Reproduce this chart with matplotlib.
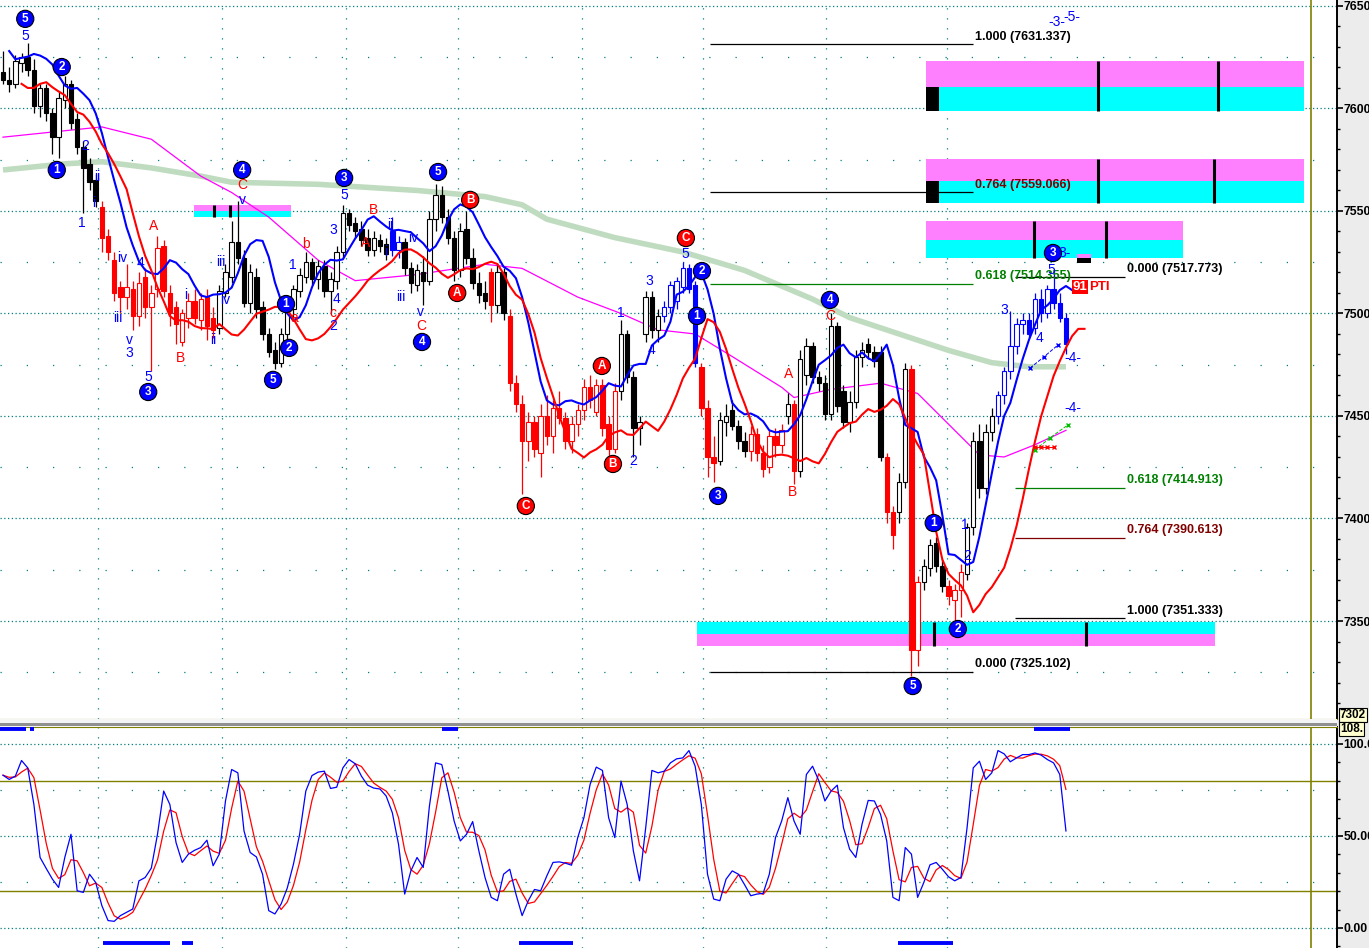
import numpy as np
import pandas as pd
import matplotlib
matplotlib.use("Agg")
import matplotlib.pyplot as plt
from matplotlib.patches import Rectangle
from matplotlib.ticker import MultipleLocator

plt.rcParams['font.family'] = ['Liberation Sans', 'DejaVu Sans']

# ---- price bars ----
opens = [7618, 7614, 7612, 7622, 7625, 7619, 7601, 7610, 7598, 7586,
         7604, 7612, 7595, 7581, 7573, 7565, 7552, 7538, 7526, 7513,
         7508, 7512, 7499, 7518, 7503, 7512, 7533, 7510, 7503, 7486,
         7498, 7506, 7497, 7508, 7498, 7493, 7510, 7518, 7535, 7527,
         7505, 7518, 7503, 7490, 7482, 7476, 7490, 7502, 7511, 7518,
         7525, 7517, 7523, 7511, 7516, 7530, 7549, 7544, 7541, 7537,
         7531, 7536, 7534, 7540, 7531, 7535, 7522, 7514, 7520, 7516,
         7546, 7558, 7547, 7537, 7521, 7541, 7527, 7515, 7510, 7520,
         7504, 7520, 7499, 7466, 7456, 7438, 7447, 7432, 7450, 7440,
         7454, 7449, 7438, 7446, 7453, 7464, 7452, 7465, 7446, 7434,
         7462, 7490, 7469, 7444, 7490, 7508, 7492, 7499, 7503, 7506,
         7513, 7522, 7514, 7474, 7454, 7430, 7428, 7447, 7453, 7445,
         7438, 7433, 7441, 7432, 7425, 7440, 7436, 7450, 7456, 7423,
         7470, 7484, 7469, 7466, 7451, 7494, 7462, 7447, 7457, 7479,
         7485, 7481, 7481, 7430, 7403, 7403, 7418, 7473, 7336, 7369,
         7376, 7388, 7377, 7367, 7360, 7365, 7373, 7396, 7438, 7415,
         7442, 7450, 7460, 7472, 7484, 7495, 7497, 7493, 7507, 7500,
         7512, 7505, 7498]
highs = [7628, 7620, 7626, 7627, 7632, 7624, 7612, 7612, 7600, 7608,
         7616, 7614, 7598, 7584, 7576, 7568, 7555, 7541, 7530, 7516,
         7524, 7516, 7520, 7522, 7514, 7538, 7536, 7514, 7506, 7502,
         7510, 7512, 7510, 7512, 7503, 7514, 7524, 7545, 7555, 7531,
         7524, 7522, 7506, 7493, 7486, 7493, 7505, 7514, 7522, 7530,
         7527, 7526, 7526, 7520, 7533, 7553, 7551, 7547, 7545, 7541,
         7540, 7539, 7537, 7547, 7538, 7537, 7525, 7524, 7528, 7550,
         7563, 7562, 7551, 7540, 7544, 7550, 7532, 7520, 7516, 7522,
         7524, 7522, 7502, 7470, 7460, 7452, 7450, 7456, 7460, 7458,
         7462, 7452, 7450, 7456, 7468, 7470, 7468, 7468, 7450, 7466,
         7497, 7492, 7472, 7450, 7511, 7511, 7502, 7506, 7516, 7518,
         7525, 7524, 7516, 7476, 7458, 7440, 7452, 7456, 7458, 7448,
         7442, 7445, 7444, 7436, 7443, 7444, 7446, 7461, 7458, 7482,
         7488, 7486, 7472, 7470, 7500, 7496, 7465, 7462, 7482, 7486,
         7488, 7484, 7484, 7432, 7406, 7422, 7476, 7475, 7372, 7380,
         7390, 7391, 7380, 7370, 7368, 7378, 7398, 7442, 7446, 7446,
         7454, 7462, 7474, 7501, 7498, 7500, 7500, 7510, 7512, 7514,
         7521, 7510, 7500]
lows = [7612, 7608, 7610, 7618, 7616, 7598, 7596, 7594, 7578, 7576,
        7600, 7590, 7578, 7549, 7560, 7552, 7530, 7526, 7506, 7500,
        7502, 7492, 7494, 7498, 7472, 7508, 7508, 7494, 7485, 7484,
        7493, 7495, 7492, 7487, 7488, 7490, 7508, 7515, 7524, 7503,
        7500, 7498, 7487, 7479, 7473, 7474, 7486, 7498, 7508, 7515,
        7514, 7512, 7508, 7500, 7512, 7527, 7540, 7537, 7533, 7528,
        7528, 7530, 7526, 7528, 7527, 7519, 7510, 7511, 7504, 7514,
        7540, 7544, 7534, 7516, 7518, 7524, 7512, 7505, 7502, 7496,
        7500, 7497, 7462, 7452, 7412, 7428, 7430, 7420, 7436, 7432,
        7446, 7434, 7432, 7440, 7448, 7454, 7450, 7440, 7430, 7432,
        7458, 7466, 7430, 7436, 7486, 7488, 7486, 7496, 7500, 7502,
        7510, 7510, 7474, 7450, 7420, 7418, 7426, 7440, 7443, 7434,
        7430, 7428, 7428, 7420, 7422, 7430, 7432, 7446, 7417, 7420,
        7465, 7466, 7462, 7448, 7448, 7452, 7444, 7442, 7454, 7474,
        7478, 7474, 7428, 7398, 7385, 7398, 7415, 7323, 7328, 7365,
        7372, 7374, 7364, 7358, 7350, 7352, 7370, 7392, 7410, 7412,
        7438, 7446, 7456, 7468, 7480, 7490, 7488, 7490, 7496, 7498,
        7502, 7496, 7480]
closes = [7614, 7612, 7623, 7625, 7619, 7601, 7610, 7598, 7586, 7605,
          7612, 7593, 7581, 7571, 7564, 7555, 7537, 7530, 7510, 7508,
          7513, 7499, 7515, 7503, 7510, 7532, 7511, 7500, 7495, 7500,
          7506, 7498, 7507, 7494, 7492, 7511, 7520, 7535, 7527, 7505,
          7520, 7502, 7490, 7481, 7476, 7490, 7502, 7512, 7519, 7525,
          7517, 7523, 7511, 7517, 7530, 7549, 7543, 7540, 7536, 7531,
          7537, 7533, 7529, 7531, 7535, 7522, 7515, 7521, 7516, 7546,
          7558, 7547, 7537, 7521, 7540, 7527, 7515, 7509, 7506, 7504,
          7520, 7500, 7466, 7456, 7438, 7447, 7434, 7450, 7440, 7454,
          7449, 7438, 7446, 7453, 7464, 7458, 7465, 7444, 7434, 7462,
          7490, 7469, 7444, 7447, 7508, 7492, 7499, 7503, 7514, 7516,
          7522, 7512, 7476, 7454, 7430, 7427, 7448, 7450, 7445, 7438,
          7433, 7441, 7432, 7424, 7440, 7436, 7443, 7456, 7423, 7478,
          7484, 7469, 7466, 7451, 7494, 7455, 7447, 7457, 7479, 7482,
          7481, 7477, 7430, 7403, 7392, 7418, 7473, 7336, 7369, 7377,
          7387, 7377, 7367, 7362, 7365, 7374, 7396, 7438, 7415, 7442,
          7450, 7460, 7472, 7484, 7495, 7497, 7490, 7507, 7500, 7512,
          7505, 7498, 7485]
# wave colouring of the bars: k black, r red, b blue
color_runs = [('k', 16), ('r', 19), ('k', 28), ('b', 2), ('k', 14), ('r', 1),
              ('k', 2), ('r', 18), ('k', 7), ('b', 6), ('r', 3), ('k', 5),
              ('r', 6), ('k', 1), ('r', 1), ('k', 14), ('r', 2), ('k', 2),
              ('r', 2), ('k', 4), ('r', 3), ('k', 5), ('b', 12)]

# slow averages, read at a few bars
ma_mid_bars = [0, 16, 24, 32, 37, 43, 51, 57, 67, 78, 84, 93, 100, 106, 112,
               118, 126, 128, 134, 142, 148, 153, 158, 162, 167, 172]
ma_mid_vals = [7586, 7591, 7585, 7567, 7559, 7547, 7526, 7516, 7519, 7524, 7522,
               7508, 7500, 7492, 7490, 7479, 7464, 7459, 7463, 7466, 7461, 7446,
               7431, 7430, 7436, 7443]
ma_long_bars = [0, 10, 16, 24, 32, 37, 51, 67, 78, 84, 88, 99, 110, 120, 131,
                137, 145, 153, 160, 166, 172]
ma_long_vals = [7570, 7573, 7574, 7571, 7567, 7564, 7563, 7560, 7557, 7553, 7546,
                7537, 7530, 7521, 7507, 7498, 7490, 7482, 7476, 7474, 7474]

# stochastic %K per bar
stoch_k = [83.0, 80.7, 82.5, 91.0, 87.0, 67.1, 38.3, 32.3, 26.5, 22.0,
           38.3, 50.9, 20.2, 19.3, 29.2, 24.7, 12.1, 4.0, 3.6, 6.7,
           8.5, 10.3, 25.6, 27.4, 32.5, 50.9, 74.4, 67.1, 46.4, 35.6,
           40.1, 42.2, 43.7, 47.7, 33.8, 40.1, 69.0, 86.1, 84.3, 52.7,
           41.0, 38.6, 29.2, 9.4, 7.6, 13.0, 21.7, 34.7, 50.9, 74.4,
           82.8, 84.7, 85.2, 75.8, 76.5, 87.0, 91.5, 89.2, 82.5, 77.6,
           76.0, 75.5, 71.7, 62.6, 45.5, 18.4, 31.0, 38.3, 32.9, 66.2,
           89.7, 88.8, 74.4, 58.1, 47.3, 50.9, 57.8, 41.9, 27.4, 16.6,
           14.8, 29.2, 31.9, 18.4, 6.7, 14.8, 20.9, 20.2, 28.3, 35.6,
           35.9, 35.2, 34.1, 49.1, 59.9, 78.0, 87.4, 85.6, 59.9, 49.1,
           79.8, 67.1, 41.9, 25.6, 54.5, 85.6, 84.3, 85.2, 89.7, 91.9,
           92.4, 96.4, 87.9, 67.1, 29.2, 15.7, 14.8, 26.5, 31.0, 29.2,
           23.5, 17.5, 18.4, 18.8, 29.2, 49.1, 58.1, 70.8, 58.1, 50.9,
           83.4, 87.9, 80.1, 69.0, 74.4, 77.6, 54.5, 42.8, 38.3, 56.3,
           69.3, 69.0, 61.7, 47.3, 16.6, 14.8, 43.7, 40.1, 16.6, 24.7,
           34.3, 35.6, 31.9, 27.8, 25.6, 27.4, 54.5, 87.0, 90.6, 80.7,
           84.3, 96.4, 94.6, 90.3, 92.4, 94.2, 94.2, 95.1, 93.9, 91.5,
           89.7, 83.4, 52.7]
# signal strips on the stochastic pane (start bar, end bar)
sig_top = [(-0.5, 3.7), (4.4, 5.0), (71.0, 73.6), (166.8, 172.7)]
sig_bottom = [(16.2, 27.0), (29.0, 30.7), (83.5, 92.2), (144.8, 153.7)]

# session separators (bars)
sessions = [15.4, 35.4, 55.5, 73.6, 93.7, 113.3, 133.2, 152.7]

# fibonacci projections
fib_levels = [7631.337, 7559.066, 7514.355, 7325.102,
              7517.773, 7414.913, 7390.613, 7351.333]
fib_names = ['1.000', '0.764', '0.618', '0.000', '0.000', '0.618', '0.764', '1.000']
fib_colors = ['black', 'black', '#008000', 'black', 'black', '#008000', '#800000', 'black']
fib_text_colors = ['black', '#800000', '#008000', 'black', 'black', '#008000', '#800000', 'black']
fib_starts = [114.4, 114.4, 114.4, 114.4, 163.8, 163.8, 163.8, 163.8]
fib_ends = [157.0, 157.0, 157.0, 157.0, 181.6, 181.6, 181.6, 181.6]

# target zones: start bar, end bar, (magenta lo, hi), (cyan lo, hi)
zone_x0 = [149.4, 149.4, 149.4, 30.9, 112.3]
zone_x1 = [210.5, 210.5, 190.9, 46.6, 196.1]
zone_mag = [(7610.5, 7623.2), (7564.6, 7575.4), (7535.9, 7545.1), (7550.0, 7552.9), (7337.8, 7343.7)]
zone_cyan = [(7598.8, 7610.5), (7553.9, 7564.6), (7527.1, 7535.9), (7547.1, 7550.0), (7343.7, 7349.5)]
zone_ticks = [(0, 177.2), (0, 196.6), (1, 177.2), (1, 195.9), (2, 166.8), (2, 178.5),
              (3, 34.2), (3, 36.7), (4, 150.6), (4, 175.3)]

# elliott wave labels: bar, price, text
circ_blue = [(3.6, 7643.7, '5'), (9.5, 7620.2, '2'), (8.7, 7570.0, '1'), (23.5, 7461.7, '3'),
             (38.7, 7570.0, '4'), (55.2, 7566.1, '3'), (70.4, 7569.0, '5'), (45.8, 7504.6, '1'),
             (46.3, 7483.2, '2'), (43.7, 7467.6, '5'), (67.8, 7486.1, '4'), (113.1, 7520.7, '2'),
             (112.3, 7498.8, '1'), (115.7, 7411.0, '3'), (133.8, 7506.6, '4'), (147.2, 7318.3, '5'),
             (150.6, 7397.8, '1'), (154.5, 7346.1, '2'), (169.9, 7529.5, '3')]
circ_red = [(110.5, 7536.8, 'C'), (75.6, 7555.4, 'B'), (73.5, 7510.0, 'A'),
            (96.9, 7474.4, 'A'), (98.7, 7426.6, 'B'), (84.6, 7406.1, 'C')]
text_blue = [(3.6, 7635.4, '5'), (13.3, 7581.7, '2'), (12.8, 7544.1, '1'), (15.2, 7566.6, 'ii'),
             (14.7, 7553.9, 'i'), (19.3, 7527.1, 'iv'), (18.6, 7497.8, 'iii'), (20.4, 7487.1, 'v'),
             (20.4, 7480.7, '3'), (22.2, 7524.6, '4'), (23.5, 7469.0, '5'), (29.6, 7509.0, 'i'),
             (34.0, 7487.1, 'ii'), (35.3, 7525.1, 'iii'), (35.9, 7506.6, 'iv'), (38.7, 7555.4, 'v'),
             (46.9, 7523.7, '1'), (53.4, 7540.7, '3'), (55.2, 7557.8, '5'), (53.9, 7507.1, '4'),
             (53.4, 7493.9, '2'), (62.6, 7543.2, 'ii'), (62.0, 7530.0, 'i'), (64.4, 7508.0, 'iii'),
             (66.3, 7536.8, 'iv'), (67.6, 7500.7, 'v'), (100.0, 7500.2, '1'), (104.5, 7515.9, '3'),
             (105.0, 7482.2, '4'), (110.4, 7529.0, '5'), (101.9, 7428.0, '2'), (162.0, 7501.7, '3'),
             (167.8, 7488.0, '4'), (169.7, 7521.2, '5'), (155.7, 7396.8, '1'), (156.1, 7381.7, '2'),
             (170.6, 7642.0, '-3-'), (173.0, 7644.5, '-5-'), (171.8, 7529.5, '3-'),
             (173.1, 7478.3, '-4-'), (173.1, 7453.9, '-4-')]
text_red = [(24.3, 7542.7, 'A'), (28.8, 7478.3, 'B'), (38.7, 7562.7, 'C'), (47.2, 7497.8, 'a'),
            (49.0, 7533.9, 'b'), (53.4, 7500.2, 'c'), (58.6, 7534.4, 'A'), (59.9, 7550.5, 'B'),
            (67.6, 7493.9, 'C'), (127.2, 7470.5, 'A'), (127.8, 7412.9, 'B'), (133.8, 7498.8, 'C')]

# ---------------------------------------------------------------
W, H = 1369, 948
fig = plt.figure(figsize=(W / 100, H / 100), dpi=100, facecolor='#ececec')
ax = fig.add_axes([0, (H - 719) / H, 1337 / W, 719 / H])
ax2 = fig.add_axes([0, 0, 1337 / W, (H - 727) / H])
XL = (-0.485, 215.86)
OLIVE = '#808000'
TEAL = '#008080'
BLUE = '#0000ff'
RED = '#ff0000'

n = len(closes)
idx = np.arange(n)
o = np.array(opens, float)
hi = np.array(highs, float)
lo = np.array(lows, float)
c = np.array(closes, float)
cmap = {'k': 'black', 'r': RED, 'b': BLUE}
colors = []
for code, k in color_runs:
    colors += [cmap[code]] * k
up = c >= o
faces = ['white' if u else col for u, col in zip(up, colors)]

# grid
for lvl in range(7350, 7651, 50):
    ax.axhline(lvl, color=TEAL, lw=0.9, ls=(0, (1, 2)), zorder=1)
for lvl in range(7325, 7651, 50):
    ax.axhline(lvl, color=TEAL, lw=0.9, ls=(0, (1, 20)), zorder=1)
for s in sessions:
    ax.axvline(s, color=TEAL, lw=0.9, ls=(0, (1, 7)), zorder=1)
    ax2.axvline(s, color=TEAL, lw=0.9, ls=(0, (1, 7)), zorder=1)

# zones
for i in range(len(zone_x0)):
    w = zone_x1[i] - zone_x0[i]
    ax.add_patch(Rectangle((zone_x0[i], zone_mag[i][0]), w, zone_mag[i][1] - zone_mag[i][0],
                           fc='#ff80ff', ec='none', zorder=1.5))
    ax.add_patch(Rectangle((zone_x0[i], zone_cyan[i][0]), w, zone_cyan[i][1] - zone_cyan[i][0],
                           fc='#00ffff', ec='none', zorder=1.5))
for zi, xb in zone_ticks:
    lo_z = min(zone_mag[zi][0], zone_cyan[zi][0])
    hi_z = max(zone_mag[zi][1], zone_cyan[zi][1])
    ax.vlines(xb, lo_z, hi_z, color='black', lw=2.2, zorder=2)
for zi in (0, 1):
    ax.add_patch(Rectangle((149.4, zone_cyan[zi][0]), 2.1, zone_cyan[zi][1] - zone_cyan[zi][0],
                           fc='black', ec='none', zorder=2))
ax.add_patch(Rectangle((173.8, 7524.6), 2.3, 2.5, fc='black', ec='none', zorder=2))
ax.add_patch(Rectangle((173.8, 7527.1), 2.3, 1.9, fc='#ff80ff', ec='none', zorder=2))

# averages
ax.plot(ma_long_bars, ma_long_vals, color='#c0dcc0', lw=4, solid_capstyle='butt', zorder=2.2)
ax.plot(ma_mid_bars, ma_mid_vals, color='#ff00ff', lw=0.9, zorder=2.3)
blue_line = pd.Series(highs).rolling(5, min_periods=1).mean()
red_line = pd.Series(lows).rolling(8, min_periods=1).mean()
ax.plot(idx + 1, blue_line, color=BLUE, lw=1.5, zorder=5)
ax.plot(idx + 3, red_line, color=RED, lw=1.5, zorder=5)

# candles
ax.vlines(idx, lo, hi, colors=colors, lw=0.9, zorder=3)
ax.bar(idx, np.maximum(np.abs(c - o), 0.6), bottom=np.minimum(o, c), width=0.72,
       color=faces, edgecolor=colors, linewidth=0.8, zorder=4)

# fibonacci lines
for lv, nm, col, tcol, x0, x1 in zip(fib_levels, fib_names, fib_colors, fib_text_colors,
                                     fib_starts, fib_ends):
    ax.hlines(lv, x0, x1, color=col, lw=0.9, zorder=6)
    ax.text(x1 + 0.3, lv + 0.8, f'{nm} ({lv:.3f})', color=tcol, fontsize=9,
            fontweight='bold', ha='left', va='bottom', zorder=7)

# forecast scribbles
ax.plot([166.2, 168.5, 170.7], [7473.4, 7479.0, 7484.6], color=BLUE, lw=0.7,
        ls='--', marker='x', ms=3, zorder=6)
ax.plot([167.0, 169.5, 172.3], [7433.4, 7439.5, 7445.6], color='#00c000', lw=0.7,
        ls='--', marker='x', ms=3, zorder=6)
ax.plot([167.0, 168.0, 169.0, 170.0], [7434.9] * 4, color=RED, lw=0.7,
        marker='x', ms=3, zorder=6)

# wave labels
for xb, yp, t in circ_blue:
    ax.text(xb, yp, t, color='white', fontsize=8.5, fontweight='bold', ha='center', va='center',
            zorder=8, bbox=dict(boxstyle='circle,pad=0.22', fc=BLUE, ec='black', lw=0.8))
for xb, yp, t in circ_red:
    ax.text(xb, yp, t, color='white', fontsize=8.5, fontweight='bold', ha='center', va='center',
            zorder=8, bbox=dict(boxstyle='circle,pad=0.22', fc=RED, ec='black', lw=0.8))
for xb, yp, t in text_blue:
    ax.text(xb, yp, t, color=BLUE, fontsize=10, ha='center', va='center', zorder=8)
for xb, yp, t in text_red:
    ax.text(xb, yp, t, color=RED, fontsize=10, ha='center', va='center', zorder=8)
ax.text(173.1, 7512.9, '91', color='white', fontsize=9.5, fontweight='bold', ha='left',
        va='center', zorder=8, bbox=dict(boxstyle='square,pad=0.05', fc=RED, ec='none'))
ax.text(175.8, 7512.9, 'PTI', color=RED, fontsize=9.5, fontweight='bold', ha='left',
        va='center', zorder=8)

ax.axvline(211.65, color=OLIVE, lw=1.2, zorder=2)
ax.set_xlim(*XL)
ax.set_ylim(7302.2, 7652.9)

# ---- stochastic pane ----
stoch_d = pd.Series(stoch_k).rolling(3, min_periods=1).mean()
for lvl in (0, 50, 100):
    ax2.axhline(lvl, color=TEAL, lw=0.9, ls=(0, (1, 2)), zorder=1)
for lvl in (25, 75):
    ax2.axhline(lvl, color=TEAL, lw=0.9, ls=(0, (1, 20)), zorder=1)
ax2.axhline(80, color=OLIVE, lw=1.0, zorder=2)
ax2.axhline(20, color=OLIVE, lw=1.0, zorder=2)
ax2.axvline(211.65, color=OLIVE, lw=1.2, zorder=2)
ax2.plot(idx, stoch_d, color=RED, lw=0.9, zorder=3)
ax2.plot(idx, stoch_k, color=BLUE, lw=0.9, zorder=4)
for a, b in sig_top:
    ax2.hlines(108.2, a, b, color=BLUE, lw=2.8, zorder=5)
for a, b in sig_bottom:
    ax2.hlines(-8.2, a, b, color=BLUE, lw=2.8, zorder=5)
ax2.set_xlim(*XL)
ax2.set_ylim(-10.9, 109.2)

# axes styling
for a in (ax, ax2):
    a.set_facecolor('white')
    a.set_xticks([])
    a.yaxis.tick_right()
    for side in ('left', 'top', 'bottom'):
        a.spines[side].set_visible(False)
    a.spines['right'].set_color('black')
    a.spines['right'].set_linewidth(1.4)
    a.tick_params(axis='y', which='major', direction='out', length=4.5, width=1.2,
                  pad=0.3, labelsize=8.8, colors='black')
    a.tick_params(axis='y', which='minor', direction='out', length=2, width=1)
ax.spines['bottom'].set_visible(True)
ax.spines['bottom'].set_color(OLIVE)
ax2.spines['top'].set_visible(True)
ax2.spines['top'].set_color(OLIVE)
ax.set_yticks(range(7350, 7651, 50))
ax.set_yticklabels([str(v) for v in range(7350, 7651, 50)], fontweight='bold')
ax.yaxis.set_minor_locator(MultipleLocator(10))
ax2.set_yticks([0, 50, 100])
ax2.set_yticklabels(['0.00', '50.00', '100.0'], fontweight='bold')
ax2.yaxis.set_minor_locator(MultipleLocator(10))

# separator between panes
fig.patches.append(Rectangle((0, 1 - 727 / H), 1337 / W, 8 / H, transform=fig.transFigure,
                             fc='#f4f4f4', ec='none', zorder=0))
fig.patches.append(Rectangle((0, 1 - 726 / H), 1337 / W, 3 / H, transform=fig.transFigure,
                             fc='#909090', ec='none', zorder=1))
fig.text(1340 / W, 1 - 715 / H, '7302', fontsize=8.5, fontweight='bold', va='center', ha='left',
         bbox=dict(boxstyle='square,pad=0.1', fc='#ffffd0', ec='black', lw=0.8))
fig.text(1340 / W, 1 - 729 / H, '108.', fontsize=8.5, fontweight='bold', va='center', ha='left',
         bbox=dict(boxstyle='square,pad=0.1', fc='#ffffd0', ec='black', lw=0.8))

fig.savefig('out.png', dpi=100, facecolor=fig.get_facecolor())
